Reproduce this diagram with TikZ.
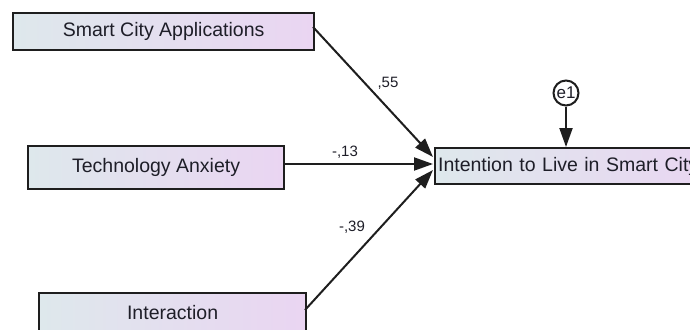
\documentclass[tikz,border=0pt]{standalone}
\usepackage{fontspec}
\setmainfont{Liberation Sans}
\usetikzlibrary{arrows.meta}
\definecolor{boxL}{HTML}{DEE8EC}
\definecolor{boxR}{HTML}{EAD5F2}
\definecolor{edge}{HTML}{1E1E1E}
\definecolor{txt}{HTML}{1E1E28}
\begin{document}
\begin{tikzpicture}[x=1pt,y=-1pt,
  varbox/.style={draw=edge,line width=2.2pt,left color=boxL,right color=boxR,
    inner sep=0pt,anchor=north west,font=\fontsize{19.5}{22}\selectfont,text=txt},
  errc/.style={circle,draw=edge,line width=2pt,fill=white,inner sep=0pt,
    minimum size=25pt,font=\fontsize{17}{19}\selectfont,text=txt},
  path/.style={draw=edge,line width=2pt,-{Triangle[length=19pt,width=13pt]}},
  coef/.style={font=\fontsize{15}{17}\selectfont,text=txt,inner sep=0pt}]
\useasboundingbox (0,0) rectangle (690,329);
\clip (0,0) rectangle (690,329);
\node[varbox,minimum width=301pt,minimum height=37pt] (sca) at (12,12) {Smart City Applications};
\node[varbox,minimum width=256pt,minimum height=43pt] (ta) at (27,145) {Technology Anxiety};
\node[varbox,minimum width=267pt,minimum height=38pt] (int) at (38,292) {Interaction};
\node[varbox,minimum width=290pt,minimum height=36pt,text width=286pt,align=left] (itl) at (434,147) {\hspace*{1pt}Intention to Live in Smart City};
\node[errc] (e1) at (566,93) {e1};
\coordinate (a1) at (433,157);
\coordinate (a2) at (433,164);
\coordinate (a3) at (433,170);
\coordinate (s1) at (313,27);
\coordinate (s2) at (283,164);
\coordinate (s3) at (305,310);
\draw[path] (s1) -- (a1);
\draw[path] (s2) -- (a2);
\draw[path] (s3) -- (a3);
\draw[path] (e1.south) -- (e1.south |- itl.north);
\node[coef] (c1) at (388,83) {,55};
\node[coef] (c2) at (345,152) {-,13};
\node[coef] (c3) at (352,227) {-,39};
\end{tikzpicture}
\end{document}
